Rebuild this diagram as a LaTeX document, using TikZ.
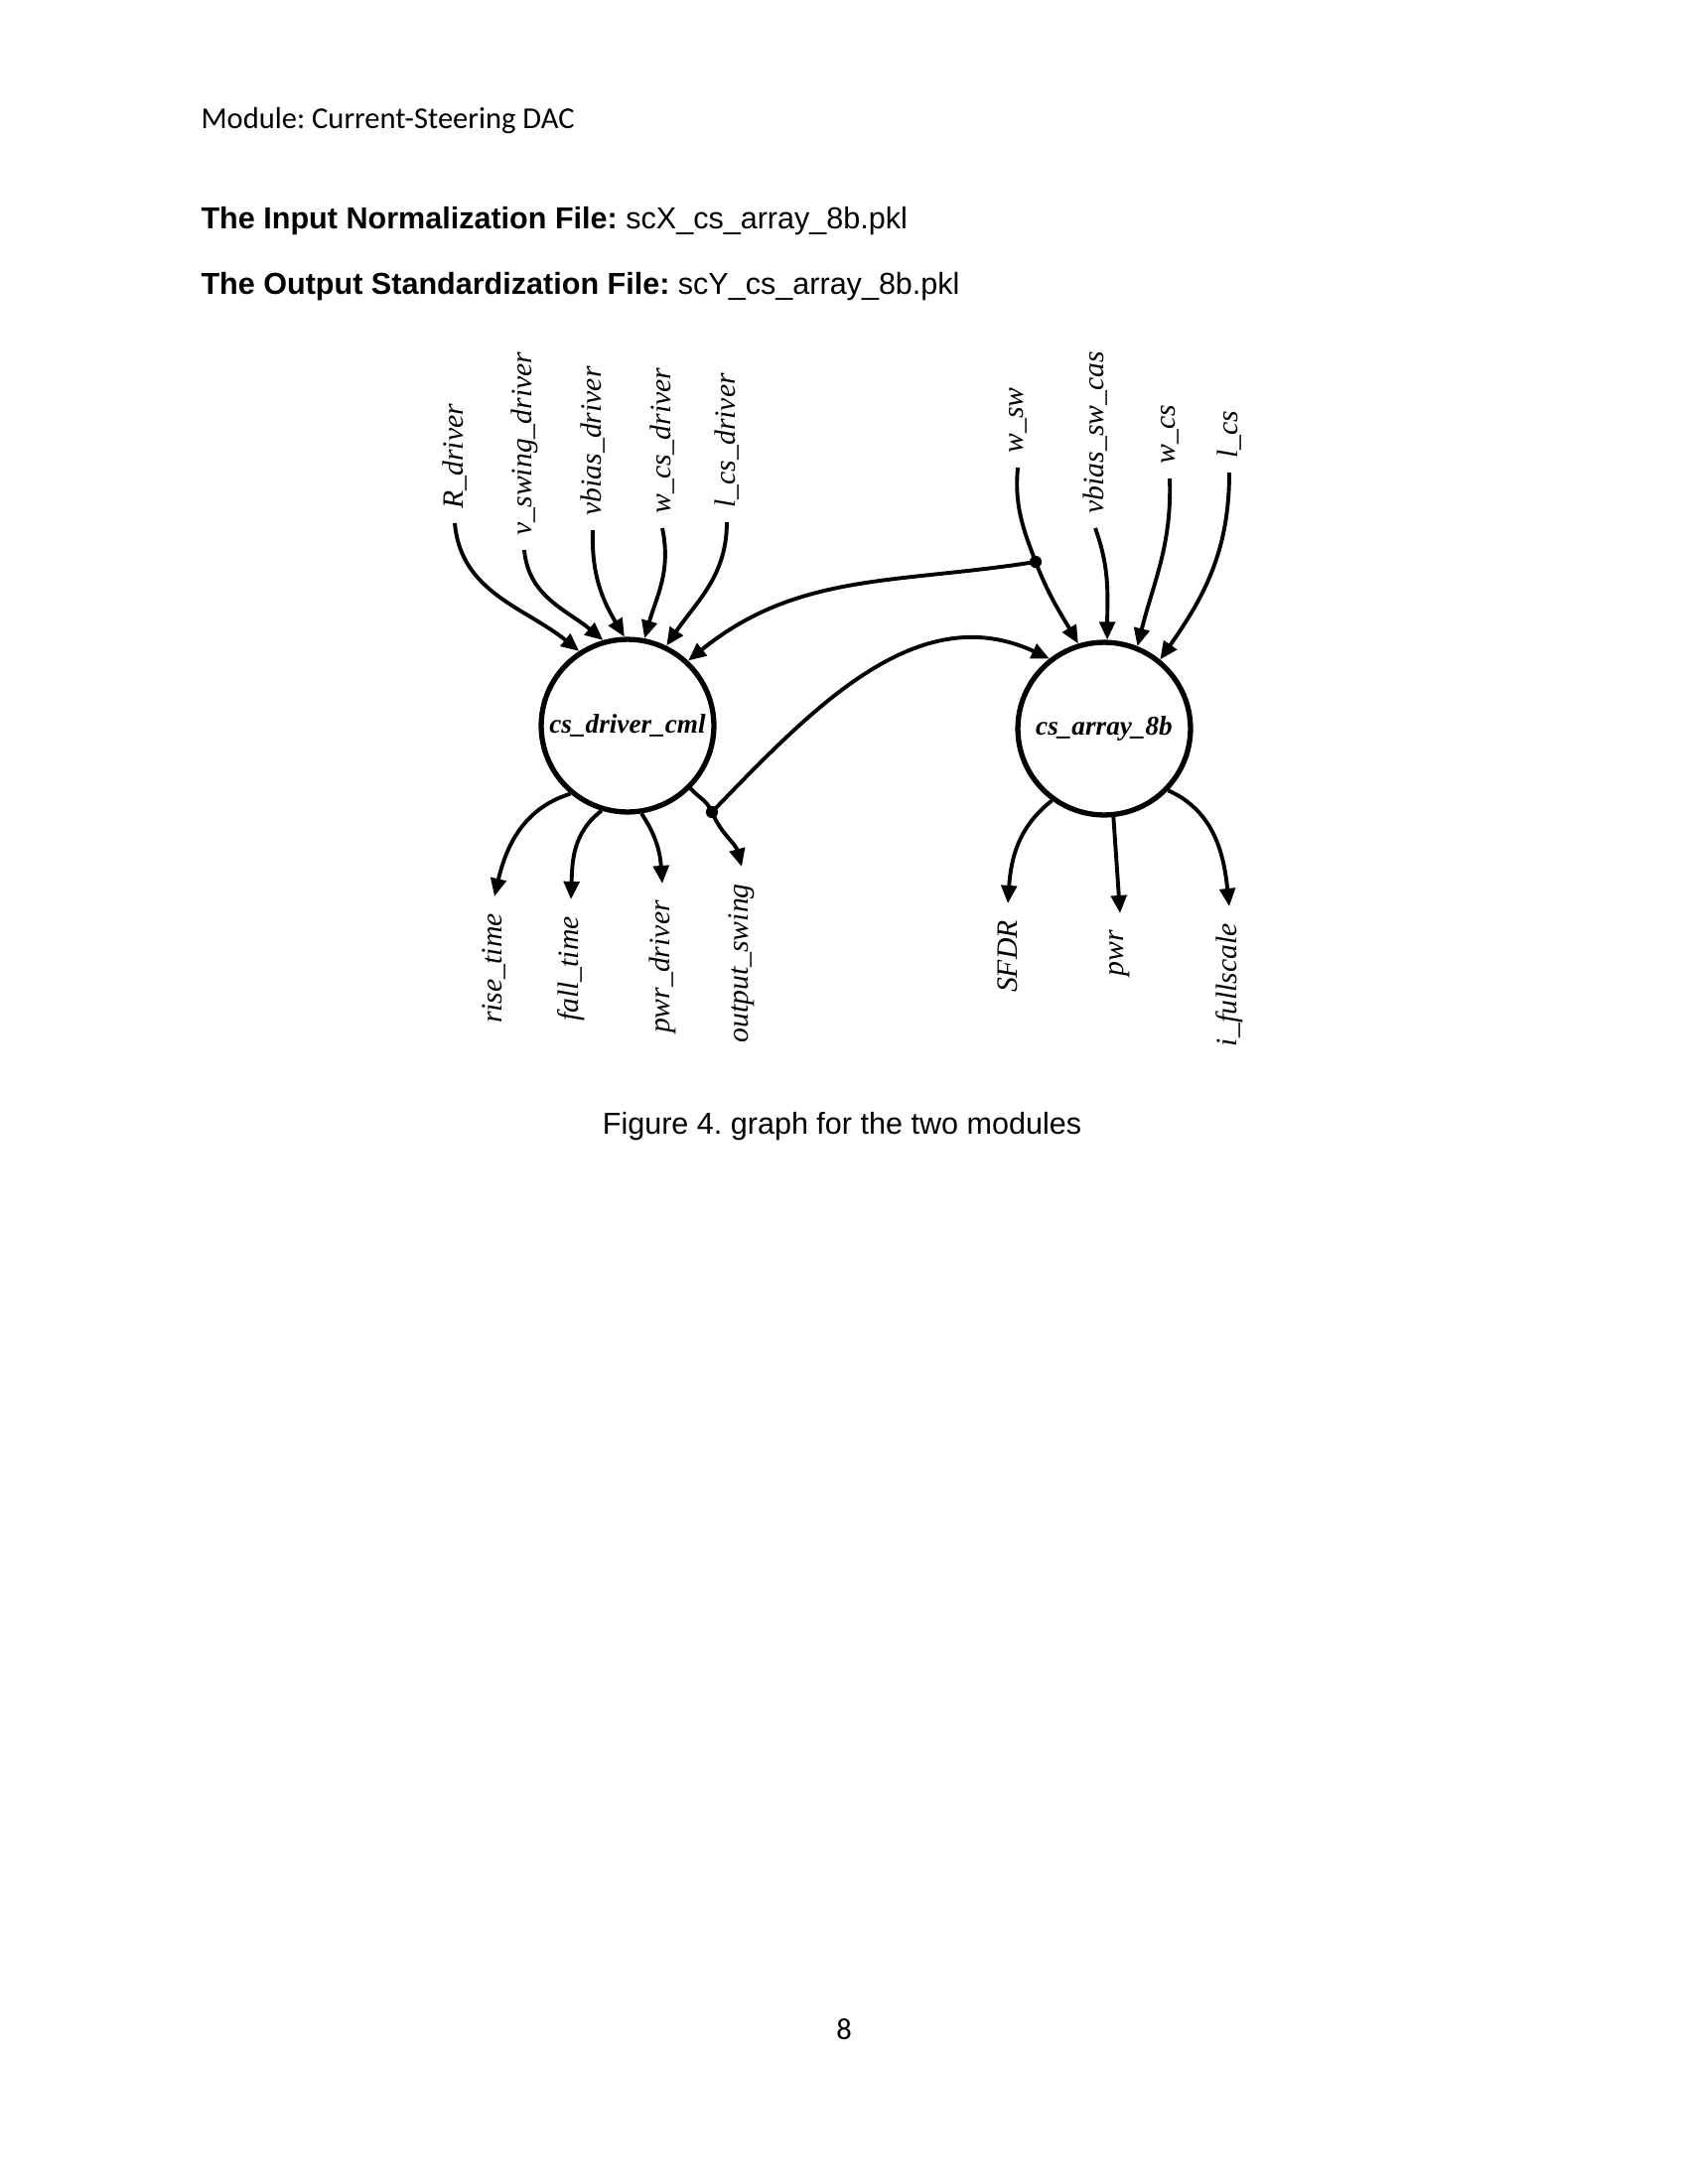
\documentclass[tikz,border=0pt]{standalone}
\usepackage{fontspec}
\setmainfont{Liberation Sans}
\newfontfamily\calfont{Carlito}
\newfontfamily\lblfont{Liberation Serif}
\usetikzlibrary{arrows.meta}
\frenchspacing
\begin{document}
\frenchspacing
\begin{tikzpicture}[x=0.36pt,y=-0.36pt,
  every node/.style={inner sep=0pt},
  module/.style={circle,draw,line width=1.9pt,minimum size=62.6pt,
     font=\lblfont\bfseries\itshape\fontsize{9.8}{11}\selectfont},
  inlabel/.style={rotate=90,anchor=west,inner xsep=5pt,
     font=\lblfont\itshape\fontsize{10.7}{12}\selectfont},
  outlabel/.style={rotate=90,anchor=east,inner xsep=6pt,
     font=\lblfont\itshape\fontsize{10.7}{12}\selectfont},
  edgearrow/.style={line width=1.4pt,-{Triangle[length=6.5pt,width=5.6pt]}},
  junction/.style={circle,fill,minimum size=4.4pt,inner sep=0pt}]
\useasboundingbox (0,0) rectangle (1700,2200);

% page text
\node[anchor=base west,font=\calfont\fontsize{11}{13}\selectfont] (hdr) at (202,130) {Module: Current-Steering DAC};
\node[anchor=base west,font=\fontsize{11}{13}\selectfont] (t1) at (202,231) {\textbf{The Input Normalization File:} scX\_cs\_array\_8b.pkl};
\node[anchor=base west,font=\fontsize{11}{13}\selectfont] (t2) at (202,297) {\textbf{The Output Standardization File:} scY\_cs\_array\_8b.pkl};
\node[anchor=base,font=\fontsize{11}{13}\selectfont] (cap) at (848,1142) {Figure 4. graph for the two modules};
\node[anchor=base,font=\calfont\fontsize{11}{13}\selectfont] (pg) at (850,2054) {8};

% modules
\node[module] (drv) at (632,731) {cs\_driver\_cml};
\node[module] (arrnode) at (1112,734) {cs\_array\_8b};

% input labels
\node[inlabel] (Rdrv) at (458,527) {R\_driver};
\node[inlabel] (vsw) at (528,554) {v\_swing\_driver};
\node[inlabel] (vbd) at (597,534) {vbias\_driver};
\node[inlabel] (wcd) at (667,532) {w\_cs\_driver};
\node[inlabel] (lcd) at (732,526) {l\_cs\_driver};
\node[inlabel] (wsw) at (1025,471) {w\_sw};
\node[inlabel] (vbsc) at (1103,532) {vbias\_sw\_cas};
\node[inlabel] (wcs) at (1178,482) {w\_cs};
\node[inlabel] (lcs) at (1238,476) {l\_cs};

% output labels
\node[outlabel] (rise) at (498,903) {rise\_time};
\node[outlabel] (fall) at (575,906) {fall\_time};
\node[outlabel] (pwrd) at (667,890) {pwr\_driver};
\node[outlabel] (osw) at (747,873) {output\_swing};
\node[outlabel] (sfdr) at (1015,910) {SFDR};
\node[outlabel] (pwr) at (1128,920) {pwr};
\node[outlabel] (ifs) at (1238,913) {i\_fullscale};

% junctions
\node[junction] (d1) at (1043,566) {};
\node[junction] (d2) at (717,818) {};

% driver inputs
\draw[edgearrow] (Rdrv.west) to[out=-85,in=141] (drv.123);
\draw[edgearrow] (vsw.west) to[out=-85,in=140] (drv.106);
\draw[edgearrow] (vbd.west) to[out=-92,in=121] (drv.92);
\draw[edgearrow] (wcd.west) to[out=-78,in=74] (drv.79);
\draw[edgearrow] (lcd.west) to[out=-90,in=56] (drv.64);
\draw[edgearrow] (d1.center) to[out=189,in=39] (drv.47);

% array inputs
\draw[edgearrow] (wsw.west) to[out=-95,in=111] (d1.center) to[out=-69,in=120] (arrnode.107);
\draw[edgearrow] (vbsc.west) to[out=-70,in=90] (arrnode.88);
\draw[edgearrow] (wcs.west) to[out=-88,in=76] (arrnode.68);
\draw[edgearrow] (lcs.west) to[out=-90,in=55] (arrnode.51);
\draw[edgearrow] (d2.center) to[out=46,in=155] (arrnode.128);

% driver outputs
\draw[edgearrow] (drv.230) to[out=-163,in=77] (rise.east);
\draw[edgearrow] (drv.253) to[out=-143,in=88] (fall.east);
\draw[edgearrow] (drv.279) to[out=-56,in=94] (pwrd.east);
\draw[edgearrow] (drv.-45) to[out=-47,in=113] (d2.center) to[out=-67,in=105] (osw.east);

% array outputs
\draw[edgearrow] (arrnode.234) to[out=-142,in=86] (sfdr.east);
\draw[edgearrow] (arrnode.-84) -- (pwr.east);
\draw[edgearrow] (arrnode.-44) to[out=-24,in=96] (ifs.east);
\end{tikzpicture}
\end{document}
